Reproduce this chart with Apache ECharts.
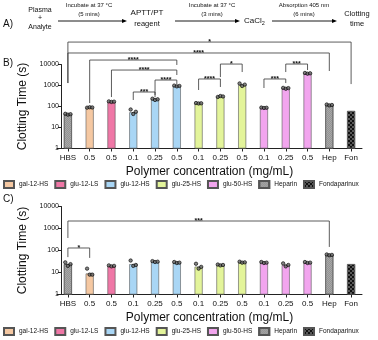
<!DOCTYPE html>
<html><head><meta charset="utf-8">
<script src="https://cdn.jsdelivr.net/npm/echarts@6/dist/echarts.min.js"></script>
<style>html,body{margin:0;padding:0;background:#fff}#c{width:378px;height:340px}</style>
</head><body><div id="c"></div>
<script>
const categories = ['HBS','0.5','0.5','0.1','0.25','0.5','0.1','0.25','0.5','0.1','0.25','0.5','Hep','Fon'];
const groupOfCat = ['Heparin','gal-12-HS','glu-12-LS','glu-12-HS','glu-12-HS','glu-12-HS','glu-25-HS','glu-25-HS','glu-25-HS','glu-50-HS','glu-50-HS','glu-50-HS','Heparin','Fondaparinux'];
const legendNames = ['gal-12-HS','glu-12-LS','glu-12-HS','glu-25-HS','glu-50-HS','Heparin','Fondaparinux'];
const yTicks = [1,10,100,1000,10000];

// Panel B (APTT) means and replicates
const apttMean = [43, 90, 170, 53, 220, 950, 142, 295, 1050, 87, 740, 3800, 118, 61];
const apttRep1 = [45, 88, 175, 72, 235, 990, 146, 285, 1250, 89, 770, 3950, 124, '-'];
const apttRep2 = [41, 92, 165, 44, 205, 910, 139, 315, 950, 85, 700, 3650, 113, '-'];
const apttRep3 = [43, 90, 170, 56, 220, 950, 142, 300, 1100, 87, 750, 3800, 118, '-'];
// Panel C (PT) means and replicates
const ptMean = [24, 9, 20, 24, 31, 28, 18.5, 22, 29, 28, 22, 28, 63, 24];
const ptRep1 = [29, 15, 21, 35, 33, 30, 25, 23, 31, 30, 26, 30, 66, '-'];
const ptRep2 = [20, 8, 19, 20, 30, 27, 15, 21, 28, 27, 19, 27, 61, '-'];
const ptRep3 = [24, 8, 20, 22, 31, 28, 18, 22, 29, 28, 22, 28, 63, '-'];

// significance brackets: [fromIdx, toIdx, lineValue, leftLegEnd, rightLegEnd]
const apttBrackets = [
  [0, 13, 117000, 1310, 1170],
  [0, 12, 35300, 1310, 4900],
  [1, 5, 16300, 146, 9500],
  [2, 5, 5450, 282, 3160],
  [4, 5, 1820, 354, 1170],
  [3, 4, 490, 204, 282],
  [6, 7, 2040, 610, 850],
  [7, 8, 10500, 2520, 4380],
  [9, 10, 2040, 760, 1310],
  [10, 11, 10500, 4380, 5450]
];
const apttStars = ['*','****','****','****','****','***','****','*','***','***'];
const ptBrackets = [
  [0, 12, 2190, 370, 145],
  [0, 1, 130, 50, 46]
];
const ptStars = ['***','*'];

const colors = {
  'gal-12-HS':'#f5c8a2','glu-12-LS':'#ef77a6','glu-12-HS':'#a9d6f5',
  'glu-25-HS':'#e3f49a','glu-50-HS':'#f2a5ee','Heparin':'#a8a8a8','Fondaparinux':'#111111'
};
const decals = {
  'Heparin': {symbol:'rect', symbolSize:1, color:'rgba(110,110,110,0.35)', dashArrayX:[[1,1],[0,1,1,0]], dashArrayY:[1,0]},
  'Fondaparinux': {symbol:'rect', symbolSize:0.6, color:'#ffffff', dashArrayX:[[2,2],[0,2,2,0]], dashArrayY:[2,0]}
};

const FONT = 'Liberation Sans, Arial, sans-serif';

function barSeries(values, ax) {
  return legendNames.map(name => ({
    type:'bar', name: name, xAxisIndex: ax, yAxisIndex: ax,
    barWidth: 8, barGap:'-100%',
    data: categories.map((c,i)=> groupOfCat[i]===name ? values[i] : '-'),
    itemStyle: Object.assign({color: colors[name], borderColor:'#555', borderWidth:0.6},
      decals[name] ? {decal: decals[name]} : {}),
    z: 2
  }));
}
function repSeries(reps, ax) {
  const data = [];
  const offs = [-2.6, 0, 2.6];
  reps.forEach((r, k) => r.forEach((v, i) => {
    if (v !== '-') data.push({value:[i, v], symbolOffset:[offs[k], 0]});
  }));
  return {
    type:'scatter', xAxisIndex: ax, yAxisIndex: ax, symbol:'circle', symbolSize:3.4,
    itemStyle:{color:'#666', borderColor:'#000', borderWidth:0.8}, data: data, z: 5, silent:true
  };
}
function bracketSeries(brs, stars, ax) {
  return {
    type:'custom', xAxisIndex: ax, yAxisIndex: ax, clip:false, silent:true, z: 6,
    data: brs.map((b,i)=>({value:b, star:stars[i]})),
    renderItem: function(params, api) {
      const b = brs[params.dataIndex];
      const pL = api.coord([b[0], b[2]]);
      const pR = api.coord([b[1], b[2]]);
      const lL = api.coord([b[0], b[3]]);
      const lR = api.coord([b[1], b[4]]);
      return {
        type:'group', children:[
          {type:'polyline', shape:{points:[[pL[0], lL[1]],[pL[0], pL[1]],[pR[0], pR[1]],[pR[0], lR[1]]]},
           style:{stroke:'#333', lineWidth:0.8, fill:null}},
          {type:'text', style:{text: stars[params.dataIndex], x:(pL[0]+pR[0])/2, y:pL[1]+3.5,
            align:'center', verticalAlign:'bottom', fontSize:7, fontWeight:'bold', fill:'#111', fontFamily:FONT}}
        ]
      };
    }
  };
}

function arrow(x1, x2, y) {
  return [
    {type:'line', shape:{x1:x1, y1:y, x2:x2-4, y2:y}, style:{stroke:'#000', lineWidth:0.9}},
    {type:'polygon', shape:{points:[[x2,y],[x2-5,y-2],[x2-5,y+2]]}, style:{fill:'#000'}}
  ];
}
function txt(t, x, y, size, align, weight) {
  return {type:'text', x:x, y:y, style:{text:t, fontSize:size, fill:'#111', fontFamily:FONT,
    align: align||'center', verticalAlign:'middle', fontWeight: weight||'normal'}};
}

const graphics = [
  txt('A)', 3, 24, 10, 'left'),
  txt('Plasma', 40, 10, 7), txt('+', 40, 18, 7), txt('Analyte', 40, 27, 7),
  txt('Incubate at 37 °C', 89, 5, 6), txt('(5 mins)', 89, 14, 6),
  ...arrow(58, 127, 21),
  txt('APTT/PT', 147, 13, 8), txt('reagent', 147, 24, 7.5),
  txt('Incubate at 37 °C', 212, 5, 6), txt('(3 mins)', 212, 14, 6),
  ...arrow(175, 240, 21),
  {type:'text', x:244, y:21, style:{rich:{a:{fontSize:8,fill:'#111',fontFamily:FONT},b:{fontSize:5.5,fill:'#111',fontFamily:FONT,verticalAlign:'bottom',padding:[5,0,0,0]}}, text:'{a|CaCl}{b|2}', verticalAlign:'middle'}},
  txt('Absorption 405 nm', 304, 5, 6), txt('(6 mins)', 304, 14, 6),
  ...arrow(272, 337, 21),
  txt('Clotting', 357, 14, 7.5), txt('time', 357, 24, 7.5),
  txt('B)', 3, 63, 10, 'left'),
  txt('C)', 3, 199, 10, 'left')
];

function xAxis(gi) {
  return {
    type:'category', gridIndex: gi, data: categories,
    axisLine:{show:true, lineStyle:{color:'#222', width:1}},
    axisTick:{show:true, alignWithLabel:true, length:3, lineStyle:{color:'#222'}},
    axisLabel:{interval:0, fontSize:8, color:'#111', margin:5, fontFamily:FONT},
    name:'Polymer concentration (mg/mL)', nameLocation:'middle', nameGap:17,
    nameTextStyle:{fontSize:12, color:'#111', fontFamily:FONT}
  };
}
function yAxis(gi) {
  return {
    type:'log', logBase:10, gridIndex: gi, min:1, max:10000, offset:-4,
    axisLine:{show:true, lineStyle:{color:'#222', width:1}},
    axisTick:{show:true, length:3, lineStyle:{color:'#222'}},
    axisLabel:{fontSize:7, color:'#111', margin:2, fontFamily:FONT,
      formatter: v => yTicks.indexOf(Math.round(v))>=0 ? String(Math.round(v)) : ''},
    minorTick:{show:false}, splitLine:{show:false},
    name:'Clotting Time (s)', nameLocation:'middle', nameGap:24, nameRotate:90,
    nameTextStyle:{fontSize:12, color:'#111', fontFamily:FONT}
  };
}
function legend(top) {
  return {
    data: legendNames, left: 3, top: top, itemWidth:10, itemHeight:7, itemGap:6,
    textStyle:{fontSize:6.5, color:'#111', fontFamily:FONT}, padding:0, selectedMode:false,
    icon:'rect'
  };
}

const chart = echarts.init(document.getElementById('c'), null, {renderer:'canvas'});
chart.setOption({
  animation:false,
  backgroundColor:'#fff',
  grid:[{left:57, width:305, top:64.5, height:84}, {left:57, width:305, top:206.5, height:88}],
  xAxis:[xAxis(0), xAxis(1)],
  yAxis:[yAxis(0), yAxis(1)],
  legend:[legend(180), legend(327)],
  graphic: graphics,
  series: [
    ...barSeries(apttMean, 0),
    repSeries([apttRep1, apttRep2, apttRep3], 0),
    bracketSeries(apttBrackets, apttStars, 0),
    ...barSeries(ptMean, 1),
    repSeries([ptRep1, ptRep2, ptRep3], 1),
    bracketSeries(ptBrackets, ptStars, 1)
  ]
});
</script></body></html>
